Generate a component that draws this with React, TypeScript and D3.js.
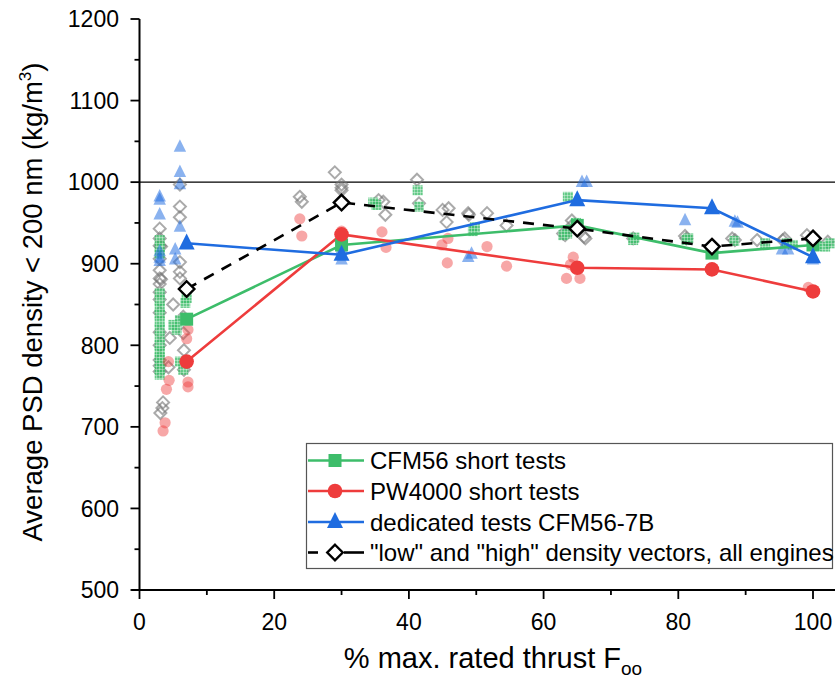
import React from "react";
import * as d3 from "d3";

// ---------- DATA ----------
const mainThrust = [7, 30, 65, 85, 100];
const cfmShort = [832, 923, 947, 913, 923];
const pwShort = [780, 936, 895, 893, 866];
const dedicated7B = [925, 911, 978, 968, 908];
const densityVectors = [869, 975, 943, 921, 931];

const cfmScatter: [number, number][] = [
  [3, 929], [3, 920], [3, 912], [3, 864], [3, 855], [3, 846], [3, 838], [3, 829], [3, 820], [3, 810],
  [3, 800], [3, 792], [3, 785], [3, 778], [3, 771], [3, 764],
  [5, 825], [5.5, 819], [6, 831], [6.8, 852], [7, 858], [6, 780], [6.5, 770],
  [30, 930], [34.7, 975], [35.2, 972], [41.3, 990], [41.5, 970], [49.8, 945], [49.5, 940],
  [63.6, 982], [62.9, 935], [63.5, 937], [64.8, 950], [73.3, 929], [73.5, 932],
  [81.2, 929], [81.5, 931], [88.3, 928], [92.9, 925], [96.1, 925], [97, 923],
  [100.5, 922], [101.8, 921], [102.5, 925],
];

const pwScatter: [number, number][] = [
  [4.3, 780], [4.4, 757], [4, 746], [3.8, 705], [3.5, 695],
  [7.2, 819], [7, 808], [7.2, 755], [7.2, 749],
  [23.8, 955], [24.1, 934], [30, 940], [36, 939], [36.6, 920],
  [45.8, 931], [44.9, 923], [45.7, 901], [51.6, 921], [54.5, 897],
  [64.4, 908], [63.4, 882], [65.4, 882], [64, 899], [99.3, 871],
];

const dedicatedScatter: [number, number][] = [
  [3, 982], [3, 978], [3, 960], [3, 915], [3, 907], [3, 903],
  [6, 1043], [6, 1012], [6, 997], [6, 945], [5.3, 917], [5.3, 905],
  [30, 918], [30, 905], [48.8, 908], [49.3, 912], [65.7, 1000], [66.4, 1000],
  [81, 953], [88.4, 951], [88.8, 950], [95.4, 917], [96.3, 917], [100, 905],
];

const vectorScatter: [number, number][] = [
  [3, 943], [3, 931], [3, 922], [3.2, 921], [3, 906], [3, 892], [3, 882], [3.2, 881], [3, 875], [3, 865],
  [3, 856], [3, 840], [3, 816], [3, 800], [3, 782], [3, 775], [3, 768],
  [6, 997], [6, 970], [6, 957], [6, 902], [6, 890], [6, 882], [5, 850], [6.5, 835],
  [4.5, 809], [4.3, 773], [6.5, 815], [6.6, 794], [6.6, 770], [3.5, 730], [3.4, 723], [3.1, 717],
  [23.8, 982], [24.1, 976], [29, 1012], [30, 997], [30, 993], [30, 990],
  [36.2, 976], [36.5, 960], [35.5, 978], [41.2, 1003], [41.5, 974],
  [45, 966], [45.9, 968], [45.6, 951], [48.8, 962], [48.9, 960], [51.6, 962], [54.5, 947],
  [64.2, 953], [62.9, 937], [63.2, 935], [66.2, 931], [66, 933], [64, 945],
  [73.3, 931], [81.2, 931], [81, 934], [88.4, 929], [88, 931], [91.7, 929],
  [95.5, 929], [95.8, 931], [99.1, 935], [102.2, 927],
];

const xTicks = [0, 20, 40, 60, 80, 100];
const xMinor = [10, 30, 50, 70, 90];
const yTicks = [500, 600, 700, 800, 900, 1000, 1100, 1200];
const yMinor = [550, 650, 750, 850, 950, 1050, 1150];

const legendLabels = [
  "CFM56 short tests",
  "PW4000 short tests",
  "dedicated tests CFM56-7B",
  "\"low\" and \"high\" density vectors, all engines",
];

// ---------- STYLE ----------
const GREEN = "#3dbd6a";
const RED = "#ee3c3c";
const BLUE = "#1f6ce0";
const FONT = "'Liberation Sans', Arial, sans-serif";

const W = 835;
const H = 684;

const x = d3.scaleLinear().domain([0, 100]).range([139.5, 813]);
const y = d3.scaleLinear().domain([500, 1200]).range([590, 19]);

const tri = (cx: number, cy: number, s: number) =>
  `M${cx},${cy - s * 0.62} L${cx + s / 2},${cy + s * 0.38} L${cx - s / 2},${cy + s * 0.38} Z`;
const dia = (cx: number, cy: number, s: number) =>
  `M${cx},${cy - s / 2} L${cx + s / 2},${cy} L${cx},${cy + s / 2} L${cx - s / 2},${cy} Z`;

function Square({ cx, cy, s, fill }: { cx: number; cy: number; s: number; fill: string }) {
  return <rect x={cx - s / 2} y={cy - s / 2} width={s} height={s} fill={fill} />;
}

export default function App() {
  const line = d3
    .line<number>()
    .x((_, i) => x(mainThrust[i]))
    .y((d) => y(d));

  const legendY = [460.5, 491, 522, 552.5];

  return (
    <svg
      width={W}
      height={H}
      style={{ position: "absolute", left: 0, top: 0, background: "#fff" }}
      fontFamily={FONT}
    >
      <defs>
        <pattern id="grid" width="3" height="3" patternUnits="userSpaceOnUse">
          <rect width="3" height="3" fill={GREEN} />
          <path d="M0,0.5 H3 M0.5,0 V3" stroke="#ffffff" strokeOpacity="0.35" strokeWidth="1" />
        </pattern>
        <clipPath id="plot">
          <rect x={139.5} y={0} width={W - 139.5} height={590} />
        </clipPath>
      </defs>

      {/* reference line at 1000 */}
      <line x1={x(0)} x2={W} y1={y(1000)} y2={y(1000)} stroke="#000" strokeWidth={1.3} />

      <g clipPath="url(#plot)">
        {/* scatter: vectors (grey open diamonds) */}
        {vectorScatter.map(([a, b], i) => (
          <path key={"v" + i} d={dia(x(a), y(b), 12)} fill="none" stroke="#767676" strokeOpacity={0.62} strokeWidth={2} />
        ))}
        {/* scatter: CFM56 short */}
        {cfmScatter.map(([a, b], i) => (
          <g key={"c" + i} opacity={0.8}>
            <Square cx={x(a)} cy={y(b)} s={10} fill="url(#grid)" />
          </g>
        ))}
        {/* scatter: PW4000 */}
        {pwScatter.map(([a, b], i) => (
          <circle key={"p" + i} cx={x(a)} cy={y(b)} r={5.6} fill={RED} fillOpacity={0.45} />
        ))}
        {/* scatter: dedicated */}
        {dedicatedScatter.map(([a, b], i) => (
          <path key={"d" + i} d={tri(x(a), y(b), 12.5)} fill={BLUE} fillOpacity={0.52} />
        ))}

        {/* main lines */}
        <path d={line(cfmShort) || ""} fill="none" stroke={GREEN} strokeWidth={2.6} />
        <path d={line(pwShort) || ""} fill="none" stroke={RED} strokeWidth={2.6} />
        <path d={line(dedicated7B) || ""} fill="none" stroke={BLUE} strokeWidth={2.6} />
        <path d={line(densityVectors) || ""} fill="none" stroke="#000" strokeWidth={2.6} strokeDasharray="11,9" />

        {/* main markers */}
        {cfmShort.map((v, i) => (
          <Square key={"cm" + i} cx={x(mainThrust[i])} cy={y(v)} s={13} fill={GREEN} />
        ))}
        {pwShort.map((v, i) => (
          <circle key={"pm" + i} cx={x(mainThrust[i])} cy={y(v)} r={7.3} fill={RED} />
        ))}
        {dedicated7B.map((v, i) => (
          <path key={"dm" + i} d={tri(x(mainThrust[i]), y(v), 16)} fill={BLUE} />
        ))}
        {densityVectors.map((v, i) => (
          <path key={"vm" + i} d={dia(x(mainThrust[i]), y(v), 15.5)} fill="#fff" stroke="#000" strokeWidth={2.4} />
        ))}
      </g>

      {/* axes */}
      <line x1={x(0)} x2={x(0)} y1={y(1200)} y2={y(500)} stroke="#000" strokeWidth={2} />
      <line x1={x(0) - 8} x2={W} y1={y(500)} y2={y(500)} stroke="#000" strokeWidth={2} />
      {yTicks.map((t) => (
        <g key={"yt" + t}>
          <line x1={x(0) - 9} x2={x(0)} y1={y(t)} y2={y(t)} stroke="#000" strokeWidth={1.8} />
          <text x={119} y={y(t)} dy="0.36em" textAnchor="end" fontSize={23}>
            {t}
          </text>
        </g>
      ))}
      {yMinor.map((t) => (
        <line key={"ym" + t} x1={x(0) - 5} x2={x(0)} y1={y(t)} y2={y(t)} stroke="#000" strokeWidth={1.8} />
      ))}
      {xTicks.map((t) => (
        <g key={"xt" + t}>
          <line x1={x(t)} x2={x(t)} y1={y(500)} y2={y(500) + 9} stroke="#000" strokeWidth={1.8} />
          <text x={x(t)} y={630} textAnchor="middle" fontSize={23}>
            {t}
          </text>
        </g>
      ))}
      {xMinor.map((t) => (
        <line key={"xm" + t} x1={x(t)} x2={x(t)} y1={y(500)} y2={y(500) + 5} stroke="#000" strokeWidth={1.8} />
      ))}

      {/* axis titles */}
      <text x={493} y={668} textAnchor="middle" fontSize={29}>
        % max. rated thrust F
        <tspan fontSize={19} dy={7}>oo</tspan>
      </text>
      <text transform={`translate(42,302) rotate(-90)`} textAnchor="middle" fontSize={27.5}>
        Average PSD density &lt; 200 nm (kg/m
        <tspan fontSize={17} dy={-11}>3</tspan>
        <tspan dy={11}>)</tspan>
      </text>

      {/* legend */}
      <rect x={306.5} y={443.5} width={526} height={125} fill="#fff" stroke="#555" strokeWidth={1.2} />
      {legendLabels.map((lab, i) => {
        const ly = legendY[i];
        const mx = 335;
        return (
          <g key={"lg" + i}>
            {i === 0 && (
              <>
                <line x1={308} x2={364} y1={ly} y2={ly} stroke={GREEN} strokeWidth={2.6} />
                <Square cx={mx} cy={ly} s={13} fill={GREEN} />
              </>
            )}
            {i === 1 && (
              <>
                <line x1={308} x2={364} y1={ly} y2={ly} stroke={RED} strokeWidth={2.6} />
                <circle cx={mx} cy={ly} r={7.3} fill={RED} />
              </>
            )}
            {i === 2 && (
              <>
                <line x1={308} x2={364} y1={ly} y2={ly} stroke={BLUE} strokeWidth={2.6} />
                <path d={tri(mx, ly, 16)} fill={BLUE} />
              </>
            )}
            {i === 3 && (
              <>
                <line x1={308} x2={318} y1={ly} y2={ly} stroke="#000" strokeWidth={2.6} />
                <line x1={344} x2={364} y1={ly} y2={ly} stroke="#000" strokeWidth={2.6} />
                <path d={dia(mx, ly, 15.5)} fill="#fff" stroke="#000" strokeWidth={2.4} />
              </>
            )}
            <text x={370} y={ly} dy="0.36em" fontSize={24}>
              {lab}
            </text>
          </g>
        );
      })}
    </svg>
  );
}
